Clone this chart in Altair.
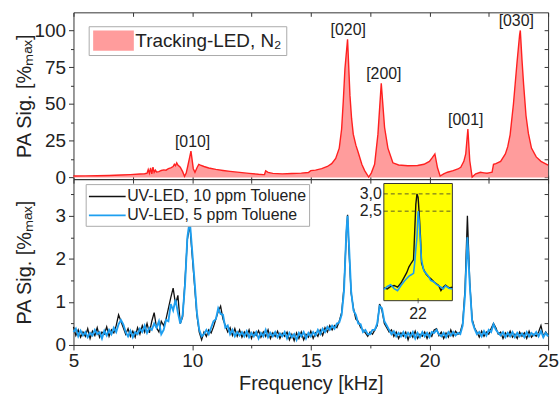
import altair as alt
import pandas as pd

FONT = "Liberation Sans"
TXT = "#222222"
FRAME = "#333333"

# ---------------- top panel: Tracking-LED, N2 ----------------
top_name = "Tracking-LED, N\u2082"
top_freq = [5.0, 5.5, 6.0, 6.5, 7.0, 7.4, 7.8, 8.0, 8.1, 8.15,
            8.2, 8.25, 8.3, 8.35, 8.4, 8.45, 8.5, 8.6, 8.7, 8.8,
            8.9, 9.0, 9.1, 9.2, 9.25, 9.3, 9.35, 9.4, 9.5, 9.6,
            9.68, 9.75, 9.82, 9.9, 9.95, 10.0, 10.05, 10.12, 10.2, 10.28,
            10.35, 10.5, 10.7, 11.0, 11.3, 11.6, 12.0, 12.4, 12.8, 13.0,
            13.05, 13.1, 13.2, 13.4, 13.8, 14.2, 14.6, 14.9, 15.0, 15.2,
            15.46, 15.7, 15.88, 16.05, 16.2, 16.3, 16.37, 16.44, 16.55, 16.65,
            16.72, 16.79, 16.9, 17.0, 17.15, 17.27, 17.44, 17.55, 17.69, 17.83,
            17.97, 18.11, 18.25, 18.46, 18.7, 19.09, 19.5, 19.77, 20.0, 20.12,
            20.23, 20.34, 20.45, 20.6, 20.76, 21.0, 21.2, 21.32, 21.45, 21.53,
            21.62, 21.7, 21.8, 21.95, 22.15, 22.3, 22.43, 22.55, 22.64, 22.7,
            22.8, 23.0, 23.2, 23.3, 23.4, 23.54, 23.69, 23.8, 23.83, 23.9,
            23.97, 24.07, 24.17, 24.3, 24.5, 24.7, 25.0]
top_signal = [1.0, 1.1, 1.2, 1.4, 1.7, 2.0, 2.4, 2.6, 3.0, 5.5,
              3.0, 6.5, 2.5, 7.0, 3.5, 5.0, 3.8, 4.0, 4.8, 5.2,
              5.0, 6.0, 6.5, 7.5, 9.0, 8.0, 10.0, 8.5, 7.0, 4.0,
              0.8, 3.0, 8.0, 14.0, 18.0, 12.0, 6.0, 3.5, 6.5, 9.0,
              8.5, 7.5, 6.5, 5.5, 4.8, 4.2, 3.5, 2.8, 2.2, 2.0,
              2.0, 4.5, 3.5, 2.8, 2.5, 2.7, 3.0, 3.4, 4.7, 5.0,
              6.0, 7.5, 9.4, 13.0, 20.0, 33.0, 52.0, 74.0, 94.0, 56.0,
              40.0, 29.5, 22.0, 17.0, 9.0, 4.7, 0.3, 3.0, 9.0, 29.5,
              64.0, 34.0, 20.0, 10.0, 8.5, 8.0, 8.2, 9.0, 11.0, 13.5,
              16.0, 6.6, 1.0, 2.5, 3.6, 4.7, 5.8, 7.0, 11.0, 16.0,
              33.0, 11.4, 0.3, 2.5, 3.6, 3.2, 2.9, 3.3, 3.6, 9.0,
              9.5, 11.0, 16.0, 21.0, 29.0, 50.0, 78.0, 97.0, 100.0, 80.0,
              63.0, 42.0, 30.0, 20.0, 14.0, 11.0, 8.5]

peak_labels = ["[010]", "[020]", "[200]", "[001]", "[030]"]
peak_label_freq = [10.02, 16.58, 18.08, 21.53, 23.66]
peak_label_height = [18.0, 94.0, 64.0, 33.0, 100.0]

# ---------------- bottom panel: UV-LED ----------------
series_names = ["UV-LED, 10 ppm Toluene", "UV-LED, 5 ppm Toluene"]
uv_freq = [5.0, 5.1, 5.2, 5.3, 5.4, 5.5, 5.6, 5.7, 5.8, 5.9,
           6.0, 6.1, 6.2, 6.3, 6.4, 6.5, 6.6, 6.7, 6.8, 6.9,
           7.0, 7.1, 7.2, 7.3, 7.4, 7.5, 7.6, 7.7, 7.8, 7.9,
           8.0, 8.1, 8.2, 8.3, 8.4, 8.5, 8.6, 8.7, 8.8, 8.9,
           9.0, 9.1, 9.2, 9.3, 9.4, 9.5, 9.6, 9.7, 9.8, 9.9,
           10.0, 10.1, 10.2, 10.3, 10.4, 10.5, 10.6, 10.7, 10.8, 10.9,
           11.0, 11.1, 11.2, 11.3, 11.4, 11.5, 11.6, 11.7, 11.8, 11.9,
           12.0, 12.1, 12.2, 12.3, 12.4, 12.5, 12.6, 12.7, 12.8, 12.9,
           13.0, 13.1, 13.2, 13.3, 13.4, 13.5, 13.6, 13.7, 13.8, 13.9,
           14.0, 14.1, 14.2, 14.3, 14.4, 14.5, 14.6, 14.7, 14.8, 14.9,
           15.0, 15.1, 15.2, 15.3, 15.4, 15.5, 15.6, 15.7, 15.8, 15.9,
           16.0, 16.1, 16.2, 16.3, 16.4, 16.5, 16.55, 16.6, 16.7, 16.8, 16.9,
           17.0, 17.1, 17.2, 17.3, 17.4, 17.5, 17.6, 17.7, 17.8, 17.9,
           18.0, 18.1, 18.2, 18.3, 18.4, 18.5, 18.6, 18.7, 18.8, 18.9,
           19.0, 19.1, 19.2, 19.3, 19.4, 19.5, 19.6, 19.7, 19.8, 19.9,
           20.0, 20.1, 20.2, 20.3, 20.4, 20.5, 20.6, 20.7, 20.8, 20.9,
           21.0, 21.1, 21.2, 21.3, 21.4, 21.5, 21.6, 21.7, 21.8, 21.9,
           22.0, 22.1, 22.2, 22.3, 22.4, 22.5, 22.6, 22.7, 22.8, 22.9,
           23.0, 23.1, 23.2, 23.3, 23.4, 23.5, 23.6, 23.7, 23.8, 23.9,
           24.0, 24.1, 24.2, 24.3, 24.4, 24.5, 24.6, 24.7, 24.8, 24.9,
           25.0]
uv_10ppm = [.42, .22, .35, .18, .30, .20, .38, .15, .32, .22,
            .40, .18, .30, .25, .42, .20, .35, .28, .45, .70,
            .55, .40, .25, .38, .20, .32, .18, .40, .25, .45,
            .30, .50, .28, .55, .75, .40, .30, .55, .45, .60,
            .85, 1.10, 1.32, .95, 1.15, .50, .65, 1.50, 2.45, 2.80,
            2.10, 1.40, .70, .30, .12, .30, .20, .35, .28, .42,
            .60, .78, .90, .60, .45, .30, .40, .22, .38, .20,
            .35, .18, .30, .20, .35, .15, .30, .22, .33, .18,
            .30, .20, .35, .15, .28, .20, .32, .15, .27, .20,
            .30, .12, .25, .10, .28, .15, .30, .12, .25, .18,
            .32, .15, .28, .20, .35, .22, .40, .30, .45, .35,
            .45, .40, .55, .75, 1.35, 2.60, 3.02, 2.30, 1.20, .85, .60,
            .55, .40, .35, .28, .20, .30, .25, .35, .45, .95,
            .80, .50, .40, .30, .35, .20, .30, .15, .28, .20,
            .30, .12, .28, .18, .32, .15, .25, .20, .30, .15,
            .28, .20, .35, .38, .22, .30, .15, .28, .18, .35,
            .20, .32, .25, .30, .50, 1.30, 3.00, 1.45, .60, .40,
            .30, .18, .32, .20, .30, .25, .38, .50, .40, .25,
            .30, .15, .28, .20, .32, .18, .25, .15, .30, .20,
            .28, .15, .32, .18, .25, .20, .30, .45, .20, .30,
            .22]
uv_5ppm = [.30, .38, .20, .33, .22, .30, .18, .28, .22, .35,
           .25, .30, .15, .33, .22, .35, .25, .40, .30, .48,
           .58, .48, .30, .20, .33, .18, .30, .25, .38, .30,
           .45, .28, .40, .35, .50, .40, .55, .25, .35, .58,
           .55, .95, .80, 1.05, .75, .50, .70, 1.40, 2.50, 2.90,
           2.20, 1.50, .75, .35, .20, .25, .35, .25, .40, .55,
           .60, .85, .72, .70, .40, .45, .25, .35, .20, .30,
           .22, .30, .20, .32, .18, .28, .20, .30, .15, .28,
           .20, .35, .18, .28, .20, .30, .18, .27, .20, .30,
           .15, .28, .18, .25, .12, .28, .20, .30, .15, .28,
           .20, .30, .22, .35, .25, .38, .30, .42, .35, .45,
           .38, .50, .52, .70, 1.25, 2.65, 3.00, 2.45, 1.25, .80, .70,
           .50, .48, .30, .35, .25, .25, .35, .35, .50, .90,
           .85, .55, .45, .35, .25, .32, .20, .28, .20, .30,
           .18, .28, .20, .30, .15, .28, .18, .30, .20, .28,
           .18, .30, .28, .35, .25, .20, .28, .18, .30, .22,
           .30, .22, .28, .25, .45, 1.15, 2.50, 1.40, .55, .38,
           .25, .30, .20, .32, .22, .35, .30, .48, .35, .28,
           .22, .30, .18, .28, .20, .30, .18, .28, .20, .27,
           .18, .30, .20, .28, .22, .30, .20, .32, .18, .28,
           .20]

# ---------------- inset ----------------
inset_freq = [21.70, 21.73, 21.76, 21.79, 21.82, 21.85, 21.88, 21.90, 21.92, 21.94,
              21.96, 21.97, 21.98, 21.99, 22.00, 22.01, 22.02, 22.03, 22.05, 22.07,
              22.09, 22.11, 22.14, 22.16, 22.18, 22.20, 22.22, 22.24, 22.27, 22.30]
inset_10ppm = [.28, .25, .32, .35, .30, .42, .60, .72, .89, 1.00,
               1.10, 1.90, 2.70, 3.00, 2.90, 2.40, 1.80, 1.00, .80, .68,
               .60, .55, .45, .40, .35, .20, .30, .36, .28, .30]
inset_5ppm = [.23, .32, .37, .26, .20, .35, .48, .55, .62, .66,
              .70, 1.00, 1.40, 1.75, 2.50, 2.20, 1.60, 1.08, .78, .70,
              .62, .50, .45, .38, .34, .30, .25, .34, .27, .25]
inset_x_domain = [21.7, 22.3]
inset_y_domain = [-0.09, 3.30]
inset_levels = [3.0, 2.5]
inset_level_labels = ["3,0", "2,5"]
inset_x_tick = [22.0]
inset_x_tick_label = ["22"]

# ---------------- axes ----------------
x_ticks = [5, 7.5, 10, 12.5, 15, 17.5, 20, 22.5, 25]
top_y_ticks = [0, 12.5, 25, 37.5, 50, 62.5, 75, 87.5, 100]
bot_y_ticks = [0, 0.5, 1, 1.5, 2, 2.5, 3, 3.5]
y_title = "PA Sig. [%\u2098\u2090\u2093]"

W = 478
H_TOP = 168
H_BOT = 167

xscale = alt.Scale(domain=[5, 25], nice=False, zero=False)
top_yscale = alt.Scale(domain=[-1.1, 112.3], nice=False, zero=False)
bot_yscale = alt.Scale(domain=[0, 3.85], nice=False, zero=False)


def tsize(mod):
    return {"condition": {"test": f"datum.value % {mod} === 0", "value": 5}, "value": 3}


def frame_axis(orient, values):
    return alt.Axis(orient=orient, values=values, labels=False, title=None,
                    tickSize=4, domain=False, offset=-4)


# ---------- top ----------
top_df = pd.DataFrame({"freq": top_freq, "signal": top_signal, "series": top_name})
peaks_df = pd.DataFrame({"freq": peak_label_freq, "signal": peak_label_height, "label": peak_labels})

top_x = alt.X("freq:Q", scale=xscale, axis=frame_axis("bottom", x_ticks))
top_y = alt.Y("signal:Q", scale=top_yscale,
              axis=alt.Axis(values=top_y_ticks, title=y_title, tickSize=tsize(25),
                            labelExpr="datum.value % 25 === 0 ? datum.label : ''",
                            titleX=-59, titleY=H_TOP / 2, titleAngle=270, titleBaseline="top",
                            titleAlign="center", labelPadding=3, domain=False))
nx = alt.X("freq:Q", scale=xscale, axis=None)
ny_top = alt.Y("signal:Q", scale=top_yscale, axis=None)

top_area = alt.Chart(top_df).mark_area(opacity=1).encode(
    x=top_x, y=top_y, y2=alt.datum(0),
    color=alt.Color("series:N", scale=alt.Scale(domain=[top_name], range=["#ff9c9c"]),
                    legend=alt.Legend(title=None, orient="none", legendX=15.3, legendY=14,
                                      symbolType="M-2,-1H2V1H-2Z", symbolSize=420,
                                      symbolOffset=10.5, labelOffset=11.5,
                                      symbolStrokeWidth=0, labelFont=FONT, labelFontSize=19,
                                      labelColor=TXT, strokeColor="#aaaaaa", fillColor="white",
                                      padding=4, labelLimit=400)))
top_line = alt.Chart(top_df).mark_line(color="#ff2020", strokeWidth=1.4).encode(x=nx, y=ny_top)
top_text = alt.Chart(peaks_df).mark_text(baseline="bottom", dy=-1, font=FONT, fontSize=16,
                                         color=TXT).encode(x=nx, y=ny_top, text="label:N")
top_frame = alt.Chart(top_df).mark_point(opacity=0).encode(
    x=alt.X("freq:Q", scale=xscale, axis=frame_axis("top", x_ticks)),
    y=alt.Y("signal:Q", scale=top_yscale, axis=frame_axis("right", top_y_ticks)))

top = alt.layer(top_area, top_line, top_text, top_frame).resolve_axis(
    x="independent", y="independent").properties(width=W, height=H_TOP)

# ---------- bottom ----------
df10 = pd.DataFrame({"freq": uv_freq, "signal": uv_10ppm, "series": series_names[0]})
df5 = pd.DataFrame({"freq": uv_freq, "signal": uv_5ppm, "series": series_names[1]})

uv_color_scale = alt.Scale(domain=series_names, range=["#111111", "#1e9ff0"])
uv_legend = alt.Legend(title=None, orient="none", legendX=12.3, legendY=5,
                       symbolType="M-2,0H2", symbolSize=342, symbolOffset=9.25,
                       labelOffset=9.5, symbolStrokeWidth=1.6, rowPadding=0,
                       labelFont=FONT, labelFontSize=16, labelColor=TXT,
                       strokeColor="#aaaaaa", fillColor="white", padding=2, labelLimit=400)

bot_x = alt.X("freq:Q", scale=xscale,
              axis=alt.Axis(orient="bottom", values=x_ticks, title="Frequency [kHz]",
                            labelExpr="datum.value % 5 === 0 ? datum.label : ''",
                            tickSize=tsize(5), labelPadding=2, titlePadding=3, domain=False))
bot_y = alt.Y("signal:Q", scale=bot_yscale,
              axis=alt.Axis(values=bot_y_ticks, title=y_title, tickSize=tsize(1),
                            labelExpr="datum.value % 1 === 0 ? format(datum.value, 'd') : ''",
                            titleX=-59, titleY=H_BOT / 2, titleAngle=270, titleBaseline="top",
                            titleAlign="center", labelPadding=3, domain=False))
ny_bot = alt.Y("signal:Q", scale=bot_yscale, axis=None)

line10 = alt.Chart(df10).mark_line(strokeWidth=1.3).encode(
    x=bot_x, y=bot_y, color=alt.Color("series:N", scale=uv_color_scale, legend=uv_legend))
line5 = alt.Chart(df5).mark_line(strokeWidth=1.9).encode(
    x=nx, y=ny_bot, color=alt.Color("series:N", scale=uv_color_scale, legend=uv_legend))
bot_frame = alt.Chart(df10).mark_point(opacity=0).encode(
    x=alt.X("freq:Q", scale=xscale, axis=frame_axis("top", x_ticks)),
    y=alt.Y("signal:Q", scale=bot_yscale, axis=frame_axis("right", bot_y_ticks)))

bot_main = alt.layer(line10, line5, bot_frame).resolve_axis(x="independent", y="independent")

# inset
isx = alt.Scale(domain=inset_x_domain, range=[312.6, 381.6], nice=False, zero=False)
isy = alt.Scale(domain=inset_y_domain, range=[122.4, 4.4], nice=False, zero=False)
box_df = pd.DataFrame({"x0": [inset_x_domain[0]], "x1": [inset_x_domain[1]],
                       "y0": [inset_y_domain[0]], "y1": [inset_y_domain[1]]})
lev_df = pd.DataFrame({"x0": inset_x_domain[0], "x1": inset_x_domain[1],
                       "level": inset_levels, "label": inset_level_labels})
itick_df = pd.DataFrame({"freq": inset_x_tick, "level": inset_y_domain[0], "label": inset_x_tick_label})
in10 = pd.DataFrame({"freq": inset_freq, "signal": inset_10ppm})
in5 = pd.DataFrame({"freq": inset_freq, "signal": inset_5ppm})

ix = alt.X("freq:Q", scale=isx, axis=None)
iy = alt.Y("signal:Q", scale=isy, axis=None)
in_box = alt.Chart(box_df).mark_rect(fill="#ffff00", stroke=FRAME, strokeWidth=1).encode(
    x=alt.X("x0:Q", scale=isx, axis=None), x2="x1",
    y=alt.Y("y0:Q", scale=isy, axis=None), y2="y1")
in_rules = alt.Chart(lev_df).mark_rule(color=FRAME, strokeWidth=0.8, strokeDash=[4, 3]).encode(
    x=alt.X("x0:Q", scale=isx, axis=None), x2="x1",
    y=alt.Y("level:Q", scale=isy, axis=None))
in_l10 = alt.Chart(in10).mark_line(color="#111111", strokeWidth=1.4).encode(x=ix, y=iy)
in_l5 = alt.Chart(in5).mark_line(color="#1e9ff0", strokeWidth=1.6).encode(x=ix, y=iy)
in_ylab = alt.Chart(lev_df).mark_text(align="right", baseline="middle", dx=-2, font=FONT,
                                      fontSize=16, color=TXT).encode(
    x=alt.X("x0:Q", scale=isx, axis=None), y=alt.Y("level:Q", scale=isy, axis=None), text="label:N")
in_xtick = alt.Chart(itick_df).mark_tick(orient="vertical", size=5, thickness=1, color=FRAME).encode(
    x=alt.X("freq:Q", scale=isx, axis=None), y=alt.Y("level:Q", scale=isy, axis=None))
in_xlab = alt.Chart(itick_df).mark_text(baseline="top", dy=5, font=FONT, fontSize=16, color=TXT).encode(
    x=alt.X("freq:Q", scale=isx, axis=None), y=alt.Y("level:Q", scale=isy, axis=None), text="label:N")

inset = alt.layer(in_box, in_rules, in_l10, in_l5, in_ylab, in_xtick, in_xlab)

bottom = alt.layer(bot_main, inset).resolve_scale(
    x="independent", y="independent").properties(width=W, height=H_BOT)

chart = alt.vconcat(top, bottom, spacing=0, bounds="flush").resolve_scale(color="independent").properties(
    padding={"left": 14, "top": 10, "right": 0, "bottom": 2}, background="white"
).configure_view(stroke=FRAME, strokeWidth=1).configure_axis(
    labelFont=FONT, labelFontSize=19, labelColor=TXT, titleFont=FONT, titleFontSize=20,
    titleColor=TXT, titleFontWeight="normal", tickColor=FRAME, domainColor=FRAME,
    grid=False, labelFlush=False, labelOverlap=False)

chart.save("out.html", embed_options={"renderer": "svg", "actions": False})
